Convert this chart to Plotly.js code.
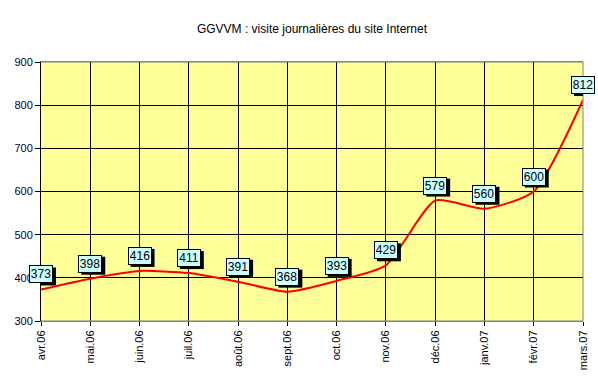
<!DOCTYPE html>
<html>
<head>
<meta charset="utf-8">
<script src="https://cdn.plot.ly/plotly-3.0.1.min.js"></script>
<style>html,body{margin:0;padding:0;background:#fff;}#chart{width:598px;height:381px;}</style>
</head>
<body>
<div id="chart"></div>
<script>
const months = ["avr.06","mai.06","juin.06","juil.06","août.06","sept.06","oct.06","nov.06","déc.06","janv.07","févr.07","mars.07"];
const visits = [373, 398, 416, 411, 391, 368, 393, 429, 579, 560, 600, 812];
const yTicks = [300, 400, 500, 600, 700, 800, 900];

const annotations = [];
const shapes = [];
months.forEach((m, i) => {
  // shadow box drawn as a pixel-sized shape anchored to the data point
  shapes.push({
    type: 'rect', xref: 'x', yref: 'y',
    xsizemode: 'pixel', ysizemode: 'pixel',
    xanchor: i, yanchor: visits[i],
    x0: -9, x1: 15, y0: 4, y1: 22,
    fillcolor: '#000', line: {width: 0}, layer: 'above'
  });
  annotations.push({
    x: m, y: visits[i], xref: 'x', yref: 'y',
    text: String(visits[i]), showarrow: false,
    xanchor: 'center', yanchor: 'middle',
    xshift: 0, yshift: 15, width: 20, height: 14, align: 'center', valign: 'middle',
    font: {family: 'Arial, Liberation Sans, sans-serif', size: 12, color: '#000'},
    bgcolor: '#CCFFFF', bordercolor: '#000', borderwidth: 1, borderpad: 1
  });
});

const trace = {
  x: months, y: visits, type: 'scatter', mode: 'lines',
  line: {color: '#FF0000', width: 2, shape: 'spline', smoothing: 0.6},
  hoverinfo: 'none', cliponaxis: false
};

const layout = {
  width: 598, height: 381,
  margin: {l: 41, r: 15, t: 62, b: 60},
  paper_bgcolor: '#FFFFFF', plot_bgcolor: '#FFFF99',
  showlegend: false,
  font: {family: 'Arial, Liberation Sans, sans-serif', size: 11, color: '#000'},
  title: {text: 'GGVVM : visite journalières du site Internet', font: {size: 12, color: '#000'},
          x: 0.5, xanchor: 'center', xref: 'paper', y: 1 - 29/381, yanchor: 'middle', yref: 'container'},
  xaxis: {
    type: 'category', range: [0, months.length - 1],
    showgrid: true, gridcolor: '#000', gridwidth: 1,
    showline: true, linecolor: '#808080', linewidth: 1, mirror: true,
    ticks: 'outside', ticklen: 4, tickcolor: '#000',
    tickangle: -90, tickfont: {size: 11, color: '#000'},
    zeroline: false, fixedrange: true
  },
  yaxis: {
    range: [300, 900], tickvals: yTicks,
    showgrid: true, gridcolor: '#000', gridwidth: 1,
    showline: true, linecolor: '#000', linewidth: 1,
    ticks: 'outside', ticklen: 5, tickcolor: '#000',
    tickfont: {size: 11, color: '#000033'},
    zeroline: false, fixedrange: true
  },
  shapes: [
    {type: 'line', xref: 'paper', yref: 'paper', x0: 1, x1: 1, y0: 0, y1: 1, line: {color: '#808080', width: 1}, layer: 'above'},
    {type: 'line', xref: 'paper', yref: 'paper', x0: 0, x1: 1, y0: 1, y1: 1, line: {color: '#808080', width: 1}, layer: 'above'},
    {type: 'line', xref: 'paper', yref: 'paper', x0: 0, x1: 1, y0: 0, y1: 0, line: {color: '#808080', width: 1}, layer: 'above'}
  ].concat(shapes),
  annotations: annotations
};

Plotly.newPlot('chart', [trace], layout, {staticPlot: true, displayModeBar: false});
</script>
</body>
</html>
